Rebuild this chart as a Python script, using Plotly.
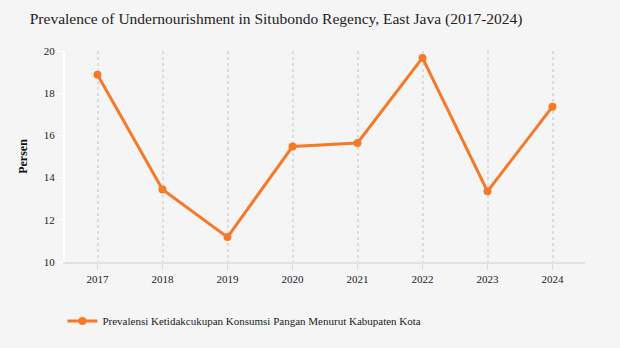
import plotly.graph_objects as go

years = ["2017", "2018", "2019", "2020", "2021", "2022", "2023", "2024"]
prevalence = [18.87, 13.44, 11.18, 15.47, 15.64, 19.67, 13.35, 17.36]
series_name = "Prevalensi Ketidakcukupan Konsumsi Pangan Menurut Kabupaten Kota"
y_ticks = [10, 12, 14, 16, 18, 20]

orange = "#f47a2a"
serif = "Liberation Serif"

fig = go.Figure()
fig.add_trace(go.Scatter(
    x=years, y=prevalence, mode="lines+markers", name=series_name,
    line=dict(color=orange, width=3),
    marker=dict(color=orange, size=8),
))

fig.update_layout(
    width=620, height=348,
    paper_bgcolor="#f5f5f5", plot_bgcolor="#f5f5f5",
    margin=dict(l=65, r=35, t=51, b=86),
    title=dict(
        text="Prevalence of Undernourishment in Situbondo Regency, East Java (2017-2024)",
        x=0.048, xanchor="left", y=0.948, yanchor="middle",
        font=dict(family=serif, size=15.5, color="#222"),
    ),
    font=dict(family=serif, color="#333", size=11),
    showlegend=True,
    legend=dict(
        orientation="h", x=-0.005, xanchor="left", y=-0.28, yanchor="middle",
        font=dict(family=serif, size=11, color="#222"),
        bgcolor="rgba(0,0,0,0)",
    ),
)

fig.update_xaxes(
    type="category", range=[-0.5, 7.5],
    showgrid=True, gridcolor="#dcdcdc", griddash="dot", gridwidth=1.5,
    showline=True, linecolor="#e2e2e2", linewidth=2,
    ticks="outside", tickcolor="#dcdcdc", ticklen=6,
    tickfont=dict(family=serif, size=11, color="#222"),
    zeroline=False,
)
fig.update_yaxes(
    range=[10, 20], tickvals=y_ticks,
    showgrid=False, zeroline=False,
    showline=True, linecolor="#ffffff", linewidth=2,
    ticks="outside", tickcolor="#ffffff", ticklen=6,
    tickfont=dict(family=serif, size=11, color="#222"),
    title=dict(text="<b>Persen</b>", font=dict(family=serif, size=12, color="#111"), standoff=14),
)

fig.write_html("out.html")
